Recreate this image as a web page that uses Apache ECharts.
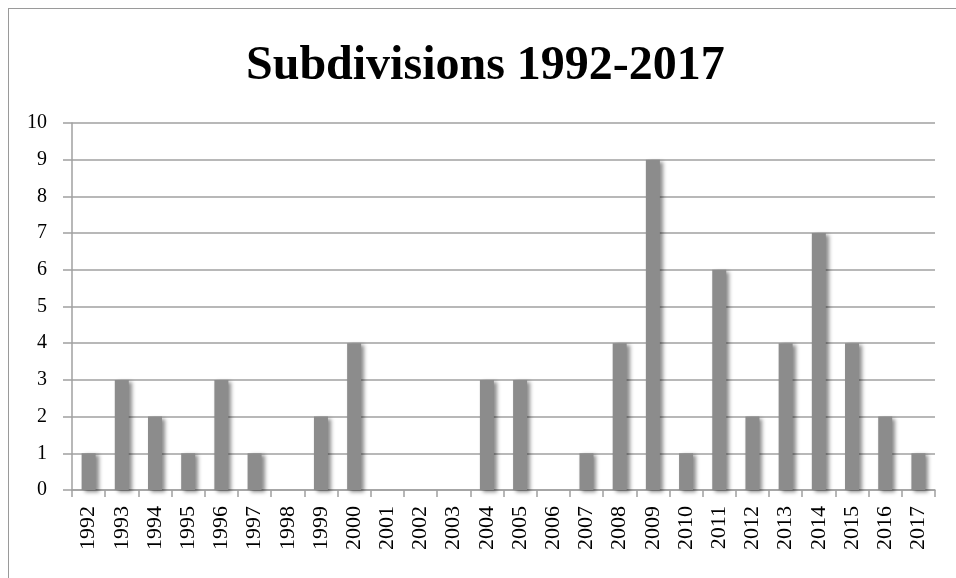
<!DOCTYPE html>
<html>
<head>
<meta charset="utf-8">
<script src="https://cdn.jsdelivr.net/npm/echarts@6/dist/echarts.min.js"></script>
<style>
  html, body { margin: 0; padding: 0; background: #fff; overflow: hidden; }
  #frame { position: absolute; left: 8px; top: 8px; width: 960px; height: 590px;
           border-left: 1.5px solid #9a9a9a; border-top: 1.5px solid #9a9a9a; }
  #chart { position: absolute; left: 0; top: 0; width: 956px; height: 578px; }
</style>
</head>
<body>
<div id="frame"></div>
<div id="chart"></div>
<script>
var years = ['1992', '1993', '1994', '1995', '1996', '1997', '1998', '1999', '2000', '2001',
             '2002', '2003', '2004', '2005', '2006', '2007', '2008', '2009', '2010', '2011',
             '2012', '2013', '2014', '2015', '2016', '2017'];
var subdivisions = [1, 3, 2, 1, 3, 1, 0, 2, 4, 0,
                    0, 0, 3, 3, 0, 1, 4, 9, 1, 6,
                    2, 4, 7, 4, 2, 1];
var titleText = 'Subdivisions 1992-2017';

var font = '"Liberation Serif", "DejaVu Serif", serif';
var chart = echarts.init(document.getElementById('chart'));
chart.setOption({
    animation: false,
    title: {
        text: titleText,
        left: 241,
        top: 38,
        textStyle: { fontFamily: font, fontSize: 48, fontWeight: 'bold', color: '#000' }
    },
    grid: { left: 72, right: 21, top: 123, bottom: 88 },
    xAxis: {
        type: 'category',
        data: years,
        axisLine: { lineStyle: { color: '#a0a0a0', width: 1.5 } },
        axisTick: { show: true, length: 7, lineStyle: { color: '#a0a0a0', width: 1.5 } },
        axisLabel: { rotate: 90, margin: 16, fontFamily: font, fontSize: 22, color: '#000' }
    },
    yAxis: {
        type: 'value',
        min: 0,
        max: 10,
        interval: 1,
        axisLine: { show: true, lineStyle: { color: '#a0a0a0', width: 1.5 } },
        axisTick: { show: true, length: 9, lineStyle: { color: '#a0a0a0', width: 1.5 } },
        splitLine: { lineStyle: { color: '#a0a0a0', width: 1.5 } },
        axisLabel: { margin: 25, fontFamily: font, fontSize: 20, color: '#000' }
    },
    series: [{
        type: 'bar',
        data: subdivisions,
        barWidth: 14,
        itemStyle: {
            color: '#8c8c8c',
            shadowColor: 'rgba(0,0,0,0.45)',
            shadowBlur: 4,
            shadowOffsetX: 3,
            shadowOffsetY: 2
        }
    }]
});
</script>
</body>
</html>
